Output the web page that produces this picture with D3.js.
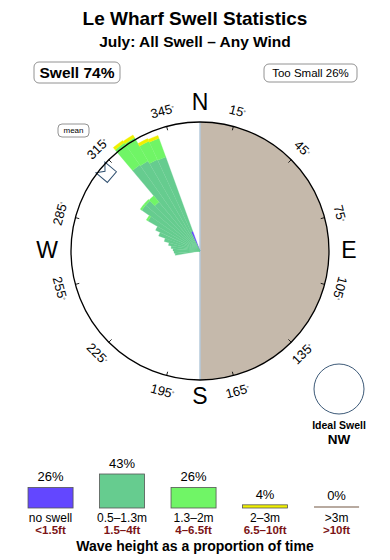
<!DOCTYPE html>
<html>
<head>
  <meta charset="utf-8">
  <title>Le Wharf swell rose - d3</title>
  <script src="https://d3js.org/d3.v7.min.js"></script>
  <style>
    body { margin: 0; background: #fff; }
    text { font-family: "Liberation Sans", Arial, sans-serif; fill: #000; }
  </style>
</head>
<body>
<div id="rose"></div>
<script>
// bin start bearings (5 deg bins)
var binStart = [260, 265, 270, 275, 280, 285, 290, 295, 300, 305, 310, 315, 320, 325, 330, 335];
var binWidth = 5;

// stacked rose values, one array per wave height class
var noSwell  = [0, 0, 0, 0, 0, 0, 0, 0, 0, 0, 0, 0, 0, 0, 0, 2.1];
var small    = [2.5, 2.6, 2.7, 2.9, 3.2, 3.7, 4.4, 4.9, 6.0, 7.1, 7.1, 6.4, 10.5, 10.4, 10.1, 7.9];
var medium   = [0, 0, 0, 0, 0, 0, 0, 0, 0.2, 0.2, 0.2, 0.8, 2.7, 2.7, 2.0, 2.0];
var large    = [0, 0, 0, 0, 0, 0, 0, 0, 0, 0, 0, 0, 0.3, 0.3, 0.3, 0.3];
var huge     = [0, 0, 0, 0, 0, 0, 0, 0, 0, 0, 0, 0, 0, 0, 0, 0];

var meanDir = 310;
var tickDirs = [15, 45, 75, 105, 135, 165, 195, 225, 255, 285, 315, 345];

// legend
var classes  = ["no swell", "0.5\u20131.3m", "1.3\u20132m", "2\u20133m", ">3m"];
var feet     = ["<1.5ft", "1.5\u20134ft", "4\u20136.5ft", "6.5\u201310ft", ">10ft"];
var classPct = [26, 43, 26, 4, 0];
var colors   = ["#6347ff", "#66cc8f", "#70f566", "#f0f000", "#b8aaa0"];

var width = 390, height = 560;
var cx = 200, cy = 251, R = 129;

var svg = d3.select("#rose").append("svg")
    .attr("width", width)
    .attr("height", height);

// titles
svg.append("text").attr("x", 195).attr("y", 25)
  .attr("text-anchor", "middle").style("font-size", "19px").style("font-weight", "bold")
  .text("Le Wharf Swell Statistics");
svg.append("text").attr("x", 195).attr("y", 47)
  .attr("text-anchor", "middle").style("font-size", "15.5px").style("font-weight", "bold")
  .text("July: All Swell \u2013 Any Wind");

// labelled boxes
function boxLabel(x, y, w, h, rx, txt, size, weight) {
  svg.append("rect").attr("x", x).attr("y", y).attr("width", w).attr("height", h)
    .attr("rx", rx).attr("fill", "#fff").attr("stroke", "#777").attr("stroke-width", 0.8);
  svg.append("text").attr("x", x + w / 2).attr("y", y + h / 2)
    .attr("dy", "0.36em").attr("text-anchor", "middle")
    .style("font-size", size).style("font-weight", weight).text(txt);
}
boxLabel(34, 62, 86, 21, 5, "Swell 74%", "15.5px", "bold");
boxLabel(264, 64, 93, 18, 5, "Too Small 26%", "11.5px", "normal");
boxLabel(58, 124, 31, 13, 4, "mean", "8px", "normal");

var g = svg.append("g").attr("transform", "translate(" + cx + "," + cy + ")");

var r = d3.scaleLinear().domain([0, 12.9]).range([0, R]);

g.append("circle").attr("r", R).attr("fill", "#fff");

// land on the east half
g.append("path")
  .attr("d", d3.arc()({innerRadius: 0, outerRadius: R, startAngle: 0, endAngle: Math.PI}))
  .attr("fill", "#c5b9ab");
g.append("line").attr("x1", 0).attr("x2", 0).attr("y1", -R).attr("y2", R)
  .attr("stroke", "#b4cadb").attr("stroke-width", 1.5);

// stacked wedges
var rows = binStart.map(function(b, i) {
  return {dir: b, noSwell: noSwell[i], small: small[i], medium: medium[i], large: large[i], huge: huge[i]};
});
var keys = ["noSwell", "small", "medium", "large", "huge"];
var stack = d3.stack().keys(keys)(rows);
var arc = d3.arc();
var rad = Math.PI / 180;

stack.forEach(function(layer, k) {
  g.append("g").selectAll("path")
    .data(layer.filter(function(d) { return d[1] > d[0]; }))
    .enter().append("path")
    .attr("d", function(d) {
      return arc({innerRadius: r(d[0]), outerRadius: r(d[1]),
                  startAngle: d.data.dir * rad, endAngle: (d.data.dir + binWidth) * rad});
    })
    .attr("fill", colors[k])
    .attr("stroke", colors[k]).attr("stroke-width", 0.3);
});

// mean marker
g.append("path")
  .attr("transform", "rotate(" + meanDir + ")")
  .attr("d", "M-7," + (-R + 14) + "L7," + (-R + 14) + "L7," + (-R - 1) + "L0," + (-R + 5) +
             "L-7," + (-R - 1) + "Z")
  .attr("fill", "#fff").attr("stroke", "#2f4f6f").attr("stroke-width", 1);

g.append("circle").attr("r", R).attr("fill", "none")
  .attr("stroke", "#000").attr("stroke-width", 1.3);

// ticks and degree labels
g.selectAll(".tick").data(tickDirs).enter().append("line")
  .attr("transform", function(d) { return "rotate(" + d + ")"; })
  .attr("y1", -R).attr("y2", -R + 4)
  .attr("stroke", "#000").attr("stroke-width", 0.8);

var lab = g.selectAll(".deg").data(tickDirs).enter().append("text")
  .attr("transform", function(d) {
    var x = (R + 16) * Math.sin(d * rad), y = -(R + 16) * Math.cos(d * rad);
    var rot = d <= 105 ? d : (d <= 255 ? d - 180 : d - 360);
    return "translate(" + x + "," + y + ") rotate(" + rot + ")";
  })
  .attr("text-anchor", "middle").attr("dy", "0.35em")
  .style("font-size", "13px");
lab.append("tspan").text(function(d) { return d; });
lab.append("tspan").attr("dy", "-0.45em").style("font-size", "6px").text("\u00b0");

// compass points
var compass = [["N", 0, -141], ["E", 149, 7], ["S", 0, 153], ["W", -153, 7]];
g.selectAll(".cp").data(compass).enter().append("text")
  .attr("x", function(d) { return d[1]; }).attr("y", function(d) { return d[2]; })
  .attr("text-anchor", "middle").style("font-size", "23px")
  .text(function(d) { return d[0]; });

// ideal swell
svg.append("circle").attr("cx", 339).attr("cy", 389).attr("r", 25)
  .attr("fill", "#fff").attr("stroke", "#3d5a78").attr("stroke-width", 1);
svg.append("text").attr("x", 339).attr("y", 429).attr("text-anchor", "middle")
  .style("font-size", "10.5px").style("font-weight", "bold").text("Ideal Swell");
svg.append("text").attr("x", 339).attr("y", 444).attr("text-anchor", "middle")
  .style("font-size", "13.5px").style("font-weight", "bold").text("NW");

// legend bars
var lx = d3.scaleBand().domain(classes).range([14.8, 372.3])
  .paddingInner(0.37).paddingOuter(0.185);
var ly = d3.scaleLinear().domain([0, 43]).range([0, 34]);
var base = 508;

var leg = svg.append("g").selectAll("g").data(classes).enter().append("g");
leg.append("rect")
  .attr("x", function(d) { return lx(d); })
  .attr("width", lx.bandwidth())
  .attr("y", function(d, i) { return base - Math.max(ly(classPct[i]), 2); })
  .attr("height", function(d, i) { return Math.max(ly(classPct[i]), 2); })
  .attr("fill", function(d, i) { return colors[i]; })
  .attr("stroke", function(d, i) { return i == 4 ? "none" : "#555"; })
  .attr("stroke-width", 0.8);
leg.append("text")
  .attr("x", function(d) { return lx(d) + lx.bandwidth() / 2; })
  .attr("y", function(d, i) { return base - Math.max(ly(classPct[i]), 2) - 6; })
  .attr("text-anchor", "middle").style("font-size", "13px")
  .text(function(d, i) { return classPct[i] + "%"; });
leg.append("text")
  .attr("x", function(d) { return lx(d) + lx.bandwidth() / 2; })
  .attr("y", 522).attr("text-anchor", "middle").style("font-size", "12px")
  .text(function(d) { return d; });
leg.append("text")
  .attr("x", function(d) { return lx(d) + lx.bandwidth() / 2; })
  .attr("y", 534).attr("text-anchor", "middle")
  .style("font-size", "11.5px").style("font-weight", "bold").style("fill", "#7b1416")
  .text(function(d, i) { return feet[i]; });

svg.append("text").attr("x", 195).attr("y", 551).attr("text-anchor", "middle")
  .style("font-size", "14px").style("font-weight", "bold")
  .text("Wave height as a proportion of time");
</script>
</body>
</html>
